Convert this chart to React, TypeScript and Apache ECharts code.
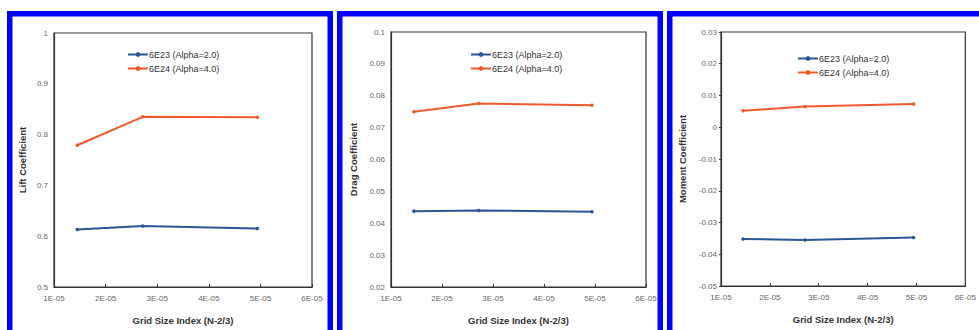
import React, { useEffect, useRef } from "react";
import * as echarts from "echarts";

const seriesNames = ["6E23 (Alpha=2.0)", "6E24 (Alpha=4.0)"];
const gridX = [1.45e-5, 2.72e-5, 4.94e-5];
const liftBlue = [0.613, 0.62, 0.615];
const liftRed = [0.779, 0.835, 0.834];
const dragBlue = [0.0438, 0.044, 0.0436];
const dragRed = [0.075, 0.0776, 0.077];
const momentBlue = [-0.0352, -0.0355, -0.0347];
const momentRed = [0.0052, 0.0065, 0.0073];
const yTitles = ["Lift Coefficient", "Drag Coefficient", "Moment Coefficient"];
const xTitle = "Grid Size Index (N-2/3)";
const yRanges = [
  [0.5, 1, 0.1],
  [0.02, 0.1, 0.01],
  [-0.05, 0.03, 0.01],
];

const BLUE = "#2a5696";
const RED = "#ef5a2c";
const FONT = 'Arial, "Liberation Sans", sans-serif';

export default function App() {
  const ref = useRef<HTMLDivElement>(null);
  useEffect(() => {
    if (!ref.current) return;
    const chart = echarts.init(ref.current, null, { renderer: "svg" });
    const grids = [
      { left: 54, top: 33, width: 258, height: 257 },
      { left: 391, top: 32, width: 255, height: 257 },
      { left: 721, top: 32, width: 254, height: 254 },
    ];
    const nameGaps = [27, 33, 34];
    const legendPos = [
      { left: 122, top: 45 },
      { left: 465, top: 45 },
      { left: 792, top: 49 },
    ];
    const blues = [liftBlue, dragBlue, momentBlue];
    const reds = [liftRed, dragRed, momentRed];
    const series: any[] = [];
    blues.forEach((b, i) => {
      [b, reds[i]].forEach((vals, k) => {
        series.push({
          type: "line",
          name: seriesNames[k],
          xAxisIndex: i,
          yAxisIndex: i,
          data: gridX.map((x, j) => [x, vals[j]]),
          symbol: "circle",
          symbolSize: 3.5,
          lineStyle: { width: 2, color: k === 0 ? BLUE : RED },
          itemStyle: { color: k === 0 ? BLUE : RED },
        });
      });
    });
    const option: any = {
      animation: false,
      backgroundColor: "#ffffff",
      textStyle: { fontFamily: FONT },
      grid: grids.map((g) => ({
        ...g,
        show: true,
        borderColor: "#333",
        borderWidth: 1.2,
        backgroundColor: "transparent",
      })),
      legend: legendPos.map((p) => ({
        ...p,
        orient: "vertical",
        data: seriesNames,
        itemWidth: 20,
        itemHeight: 6,
        itemGap: 5,
        selectedMode: false,
        textStyle: { fontSize: 9, color: "#333", fontFamily: FONT, padding: [0, 0, 0, -4] },
      })),
      xAxis: grids.map((_, i) => ({
        type: "value",
        gridIndex: i,
        min: 1e-5,
        max: 6e-5,
        interval: 1e-5,
        name: xTitle,
        nameLocation: "middle",
        nameGap: 28,
        nameTextStyle: { fontSize: 9.5, fontWeight: "bold", color: "#333", fontFamily: FONT },
        axisLine: { show: true, onZero: false, lineStyle: { color: "#333", width: 1.2 } },
        axisTick: { show: true, inside: true, length: 3, lineStyle: { color: "#333" } },
        splitLine: { show: false },
        axisLabel: {
          fontSize: 8,
          color: "#666",
          margin: 7,
          formatter: (v: number) => Math.round(v * 1e5) + "E-05",
        },
      })),
      yAxis: grids.map((_, i) => ({
        type: "value",
        gridIndex: i,
        min: yRanges[i][0],
        max: yRanges[i][1],
        interval: yRanges[i][2],
        name: yTitles[i],
        nameLocation: "middle",
        nameGap: nameGaps[i],
        nameRotate: 90,
        nameTextStyle: { fontSize: 9.5, fontWeight: "bold", color: "#333", fontFamily: FONT },
        axisLine: { show: true, onZero: false, lineStyle: { color: "#333", width: 1.2 } },
        axisTick: { show: i === 2, length: 2, lineStyle: { color: "#333" } },
        splitLine: { show: false },
        axisLabel: {
          fontSize: 8,
          color: "#666",
          margin: i === 2 ? 4 : 6,
          formatter: (v: number) => String(parseFloat(v.toFixed(3))),
        },
      })),
      graphic: [7, 337, 667].map((x) => ({
        type: "rect",
        shape: { x: x + 2.75, y: 13.75, width: 320.5, height: 400 },
        style: { fill: "none", stroke: "#0000ff", lineWidth: 5.5 },
        silent: true,
        z: 100,
      })),
      series,
    };
    chart.setOption(option);
    return () => chart.dispose();
  }, []);
  return (
    <div
      ref={ref}
      style={{ width: 979, height: 330, position: "fixed", left: 0, top: 0 }}
    />
  );
}
